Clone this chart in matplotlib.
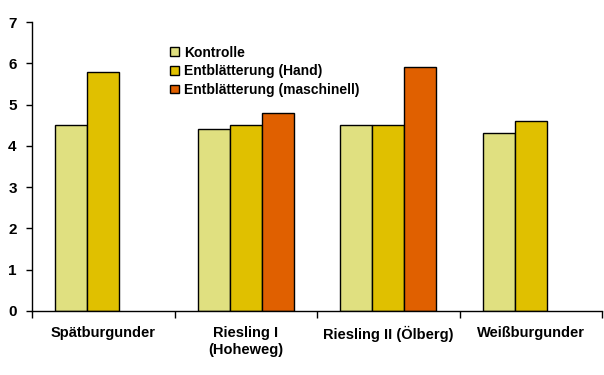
import matplotlib
matplotlib.use("Agg")
import matplotlib.pyplot as plt
import numpy as np

categories = ["Spätburgunder", "Riesling I\n(Hoheweg)", "Riesling II (Ölberg)", "Weißburgunder"]
series_names = ["Kontrolle", "Entblätterung (Hand)", "Entblätterung (maschinell)"]
kontrolle = [4.5, 4.4, 4.5, 4.3]
hand = [5.8, 4.5, 4.5, 4.6]
maschinell = [np.nan, 4.8, 5.9, np.nan]
colors = ["#E0E080", "#E0C000", "#E06000"]

plt.rcParams['font.family'] = ['Liberation Sans', 'DejaVu Sans']
plt.rcParams['font.weight'] = 'bold'

fig = plt.figure(figsize=(6.04, 3.75), dpi=100)
ax = fig.add_axes([32/604, 64/375, 570/604, 289/375])

x = np.arange(len(categories))
w = 0.225
for i, (vals, name, c) in enumerate(zip([kontrolle, hand, maschinell], series_names, colors)):
    ax.bar(x + (i - 1) * w, vals, width=w, color=c, edgecolor='black', linewidth=1.0, label=name)

ax.set_xlim(-0.5, 3.5)
ax.set_ylim(0, 7)
ax.set_yticks(range(0, 8))
ax.tick_params(axis='y', direction='out', length=4, width=1, labelsize=11, pad=7)
ax.set_xticks(np.arange(-0.5, 4, 1))
ax.set_xticklabels([])
ax.tick_params(axis='x', direction='out', length=5, width=1)
for lab in ax.get_yticklabels():
    lab.set_fontweight('bold')
for xi, cat in zip(x, categories):
    ax.text(xi, -0.36, cat, ha='center', va='top', fontsize=10.5, fontweight='bold',
            transform=ax.transData, linespacing=1.25)

for s in ['top', 'right']:
    ax.spines[s].set_visible(False)
ax.spines['left'].set_linewidth(1)
ax.spines['bottom'].set_linewidth(1)

leg = ax.legend(loc='upper left', bbox_to_anchor=(0.233, 0.937), frameon=False,
                handlelength=0.6, handleheight=0.6, handletextpad=0.4,
                labelspacing=0.33, prop={'size': 10, 'weight': 'bold'}, borderaxespad=0)

fig.savefig("out.png", dpi=100)
